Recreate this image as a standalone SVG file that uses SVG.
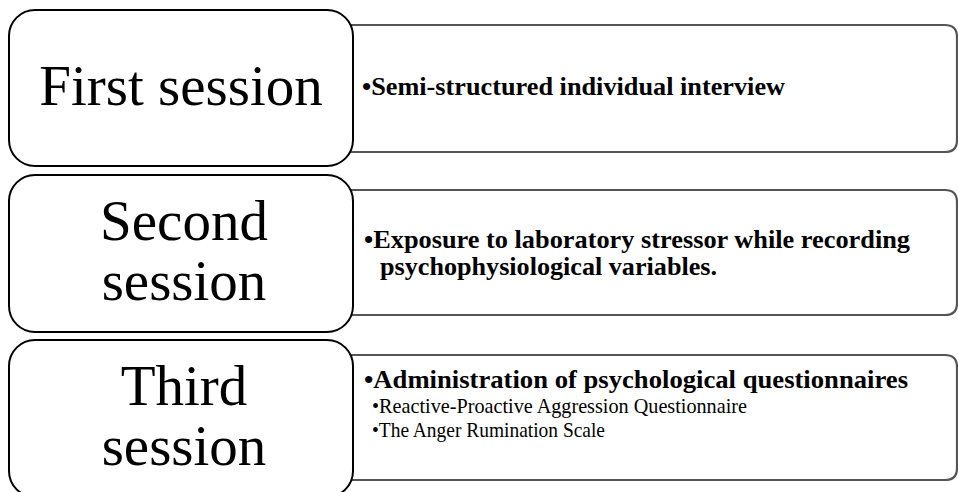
<svg xmlns="http://www.w3.org/2000/svg" width="958" height="492" viewBox="0 0 958 492">
  <style>
    .detail { fill: #ffffff; stroke: #555555; stroke-width: 2.2; }
    .session { fill: #ffffff; stroke: #000000; stroke-width: 2; }
    .title { font-family: "Liberation Serif", "Times New Roman", serif; font-size: 57px; fill: #000000; text-anchor: middle; }
    .item { font-family: "Liberation Serif", "Times New Roman", serif; font-size: 26px; font-weight: bold; fill: #000000; }
    .item2 { font-family: "Liberation Serif", "Times New Roman", serif; font-size: 25px; font-weight: bold; fill: #000000; }
    .sub { font-family: "Liberation Serif", "Times New Roman", serif; font-size: 22px; fill: #000000; }
  </style>

  <!-- detail panels (rounded on the right side only) -->
  <g id="detail-1">
    <path class="detail" d="M340,25 H945 Q957,25 957,37 V140 Q957,152 945,152 H340 Z"/>
    <text class="item" x="362" y="95" textLength="423" lengthAdjust="spacingAndGlyphs">•Semi-structured individual interview</text>
  </g>
  <g id="detail-2">
    <path class="detail" d="M340,190 H945 Q957,190 957,202 V303 Q957,315 945,315 H340 Z"/>
    <text class="item2"><tspan x="364" y="248" textLength="546" lengthAdjust="spacingAndGlyphs">•Exposure to laboratory stressor while recording</tspan><tspan x="380" y="275" textLength="337" lengthAdjust="spacingAndGlyphs">psychophysiological variables.</tspan></text>
  </g>
  <g id="detail-3">
    <path class="detail" d="M340,355 H945 Q957,355 957,367 V468 Q957,480 945,480 H340 Z"/>
    <text class="item" x="364" y="388" textLength="544" lengthAdjust="spacingAndGlyphs">•Administration of psychological questionnaires</text>
    <text class="sub"><tspan x="372" y="413" textLength="375" lengthAdjust="spacingAndGlyphs">•Reactive-Proactive Aggression Questionnaire</tspan><tspan x="372" y="437" textLength="233" lengthAdjust="spacingAndGlyphs">•The Anger Rumination Scale</tspan></text>
  </g>

  <!-- session blocks -->
  <g id="session-1">
    <rect class="session" x="9" y="10" width="344" height="156" rx="26" ry="26"/>
    <text class="title" x="181" y="105">First session</text>
  </g>
  <g id="session-2">
    <rect class="session" x="9" y="175" width="344" height="157" rx="26" ry="26"/>
    <text class="title" x="184" y="240">Second</text>
    <text class="title" x="184" y="300">session</text>
  </g>
  <g id="session-3">
    <rect class="session" x="9" y="340" width="344" height="157" rx="26" ry="26"/>
    <text class="title" x="184" y="405">Third</text>
    <text class="title" x="184" y="465">session</text>
  </g>
</svg>
